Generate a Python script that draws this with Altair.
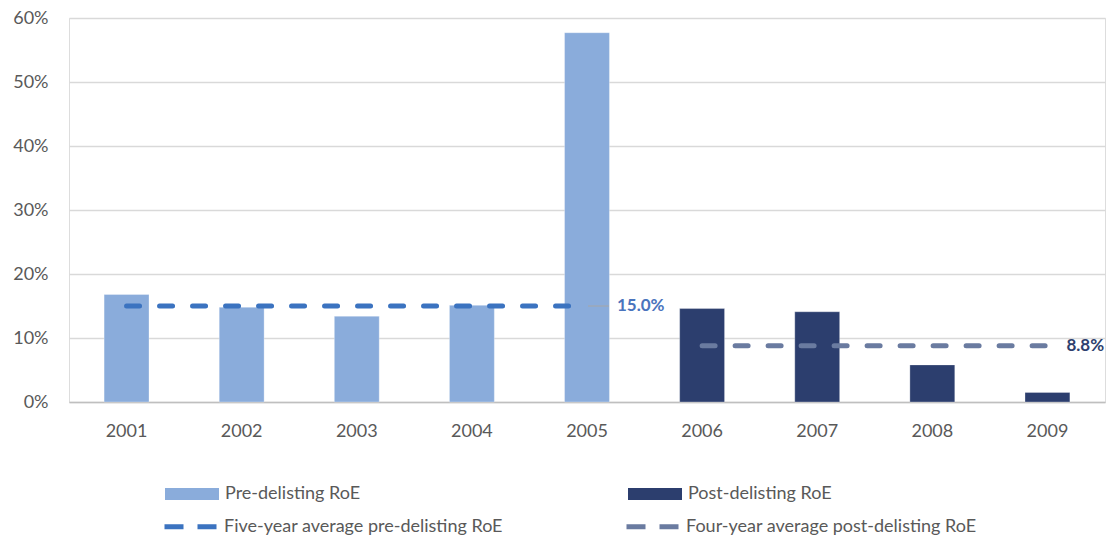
import altair as alt
import pandas as pd

# ---- data ----
years = ["2001", "2002", "2003", "2004", "2005", "2006", "2007", "2008", "2009"]
roe = [16.8, 14.8, 13.4, 15.1, 57.7, 14.6, 14.1, 5.8, 1.5]
phase_names = ["Pre-delisting RoE", "Post-delisting RoE"]
phase = [phase_names[0]] * 5 + [phase_names[1]] * 4
avg_names = ["Five-year average pre-delisting RoE", "Four-year average post-delisting RoE"]
avg_values = [15.0, 8.8]
y_ticks = [0, 10, 20, 30, 40, 50, 60]

FONT = "Lato"
GRAY = "#595959"

bars_df = pd.DataFrame({"year": years, "roe": roe, "phase": phase})
line_rows = []
for yr, p in zip(years, phase):
    i = phase_names.index(p)
    line_rows.append({"year": yr, "avg": avg_values[i], "series": avg_names[i]})
lines_df = pd.DataFrame(line_rows)
label_df = pd.DataFrame({
    "year": [years[4], years[8]],
    "avg": avg_values,
    "series": avg_names,
    "label": [f"{v:.1f}%" for v in avg_values],
})

x_enc = alt.X(
    "year:N", sort=years,
    scale=alt.Scale(paddingInner=0.61, paddingOuter=0.305),
    axis=alt.Axis(title=None, labelAngle=0, ticks=False, grid=False,
                  domainColor="#BFBFBF", domainWidth=1.5,
                  labelPadding=20, labelFontSize=18, labelColor=GRAY, labelFont=FONT),
)

bars = alt.Chart(bars_df).mark_bar(stroke="#ffffff", strokeWidth=0.6, strokeOpacity=0.5).encode(
    x=x_enc,
    y=alt.Y("roe:Q", scale=alt.Scale(domain=[0, 60]),
            axis=alt.Axis(title=None, values=y_ticks, labelExpr="datum.value + '%'",
                          ticks=False, tickSize=0, domain=False, gridColor="#D9D9D9", gridWidth=1.3,
                          labelPadding=21, labelFontSize=18, labelColor=GRAY, labelFont=FONT)),
    fill=alt.Fill("phase:N", scale=alt.Scale(domain=phase_names, range=["#8AACDB", "#2C3E6E"]),
                  legend=alt.Legend(title=None, orient="none", legendX=96, legendY=449,
                                    direction="horizontal", columns=2, columnPadding=267,
                                    symbolType="M-1,-0.222H1V0.222H-1Z", symbolSize=2916,
                                    symbolStrokeWidth=0, symbolOpacity=1, labelLimit=400,
                                    labelFontSize=18, labelFont=FONT, labelColor=GRAY, labelOffset=6)),
)

lines = alt.Chart(lines_df).mark_line(strokeWidth=5, strokeDash=[13, 20], strokeCap="round").encode(
    x=alt.X("year:N", sort=years),
    y=alt.Y("avg:Q"),
    stroke=alt.Stroke("series:N", scale=alt.Scale(domain=avg_names, range=["#3B73C0", "#6A7BA0"]),
                      legend=alt.Legend(title=None, orient="none", legendX=93, legendY=480,
                                        direction="horizontal", columns=2, columnPadding=113,
                                        symbolType="stroke", symbolSize=2704, symbolStrokeWidth=5,
                                        symbolDash=[19, 14], labelLimit=400,
                                        labelFontSize=18, labelFont=FONT, labelColor=GRAY, labelOffset=5)),
)

leader = alt.Chart(label_df.iloc[[0]]).mark_rule(color="#A6A6A6", strokeWidth=1, xOffset=1, x2Offset=22).encode(
    x=alt.X("year:N", sort=years),
    x2=alt.X2("year"),
    y=alt.Y("avg:Q"),
)

label_pre = alt.Chart(label_df.iloc[[0]]).mark_text(
    align="left", baseline="middle", dx=30, fontSize=17, fontWeight="bold", font=FONT, color="#4A74BD"
).encode(x=alt.X("year:N", sort=years), y=alt.Y("avg:Q"), text="label:N")

label_post = alt.Chart(label_df.iloc[[1]]).mark_text(
    align="left", baseline="middle", dx=19, fontSize=17, fontWeight="bold", font=FONT, color="#2E3F6E"
).encode(x=alt.X("year:N", sort=years), y=alt.Y("avg:Q"), text="label:N")

chart = alt.layer(bars, lines, leader, label_pre, label_post).properties(
    width=1036, height=384,
    padding={"left": 69, "top": 18, "right": 3, "bottom": 136},
    autosize=alt.AutoSizeParams(type="none"),
).configure_view(stroke=None).configure(background="#ffffff")

chart.save("out.html", embed_options={"renderer": "svg", "actions": False})
